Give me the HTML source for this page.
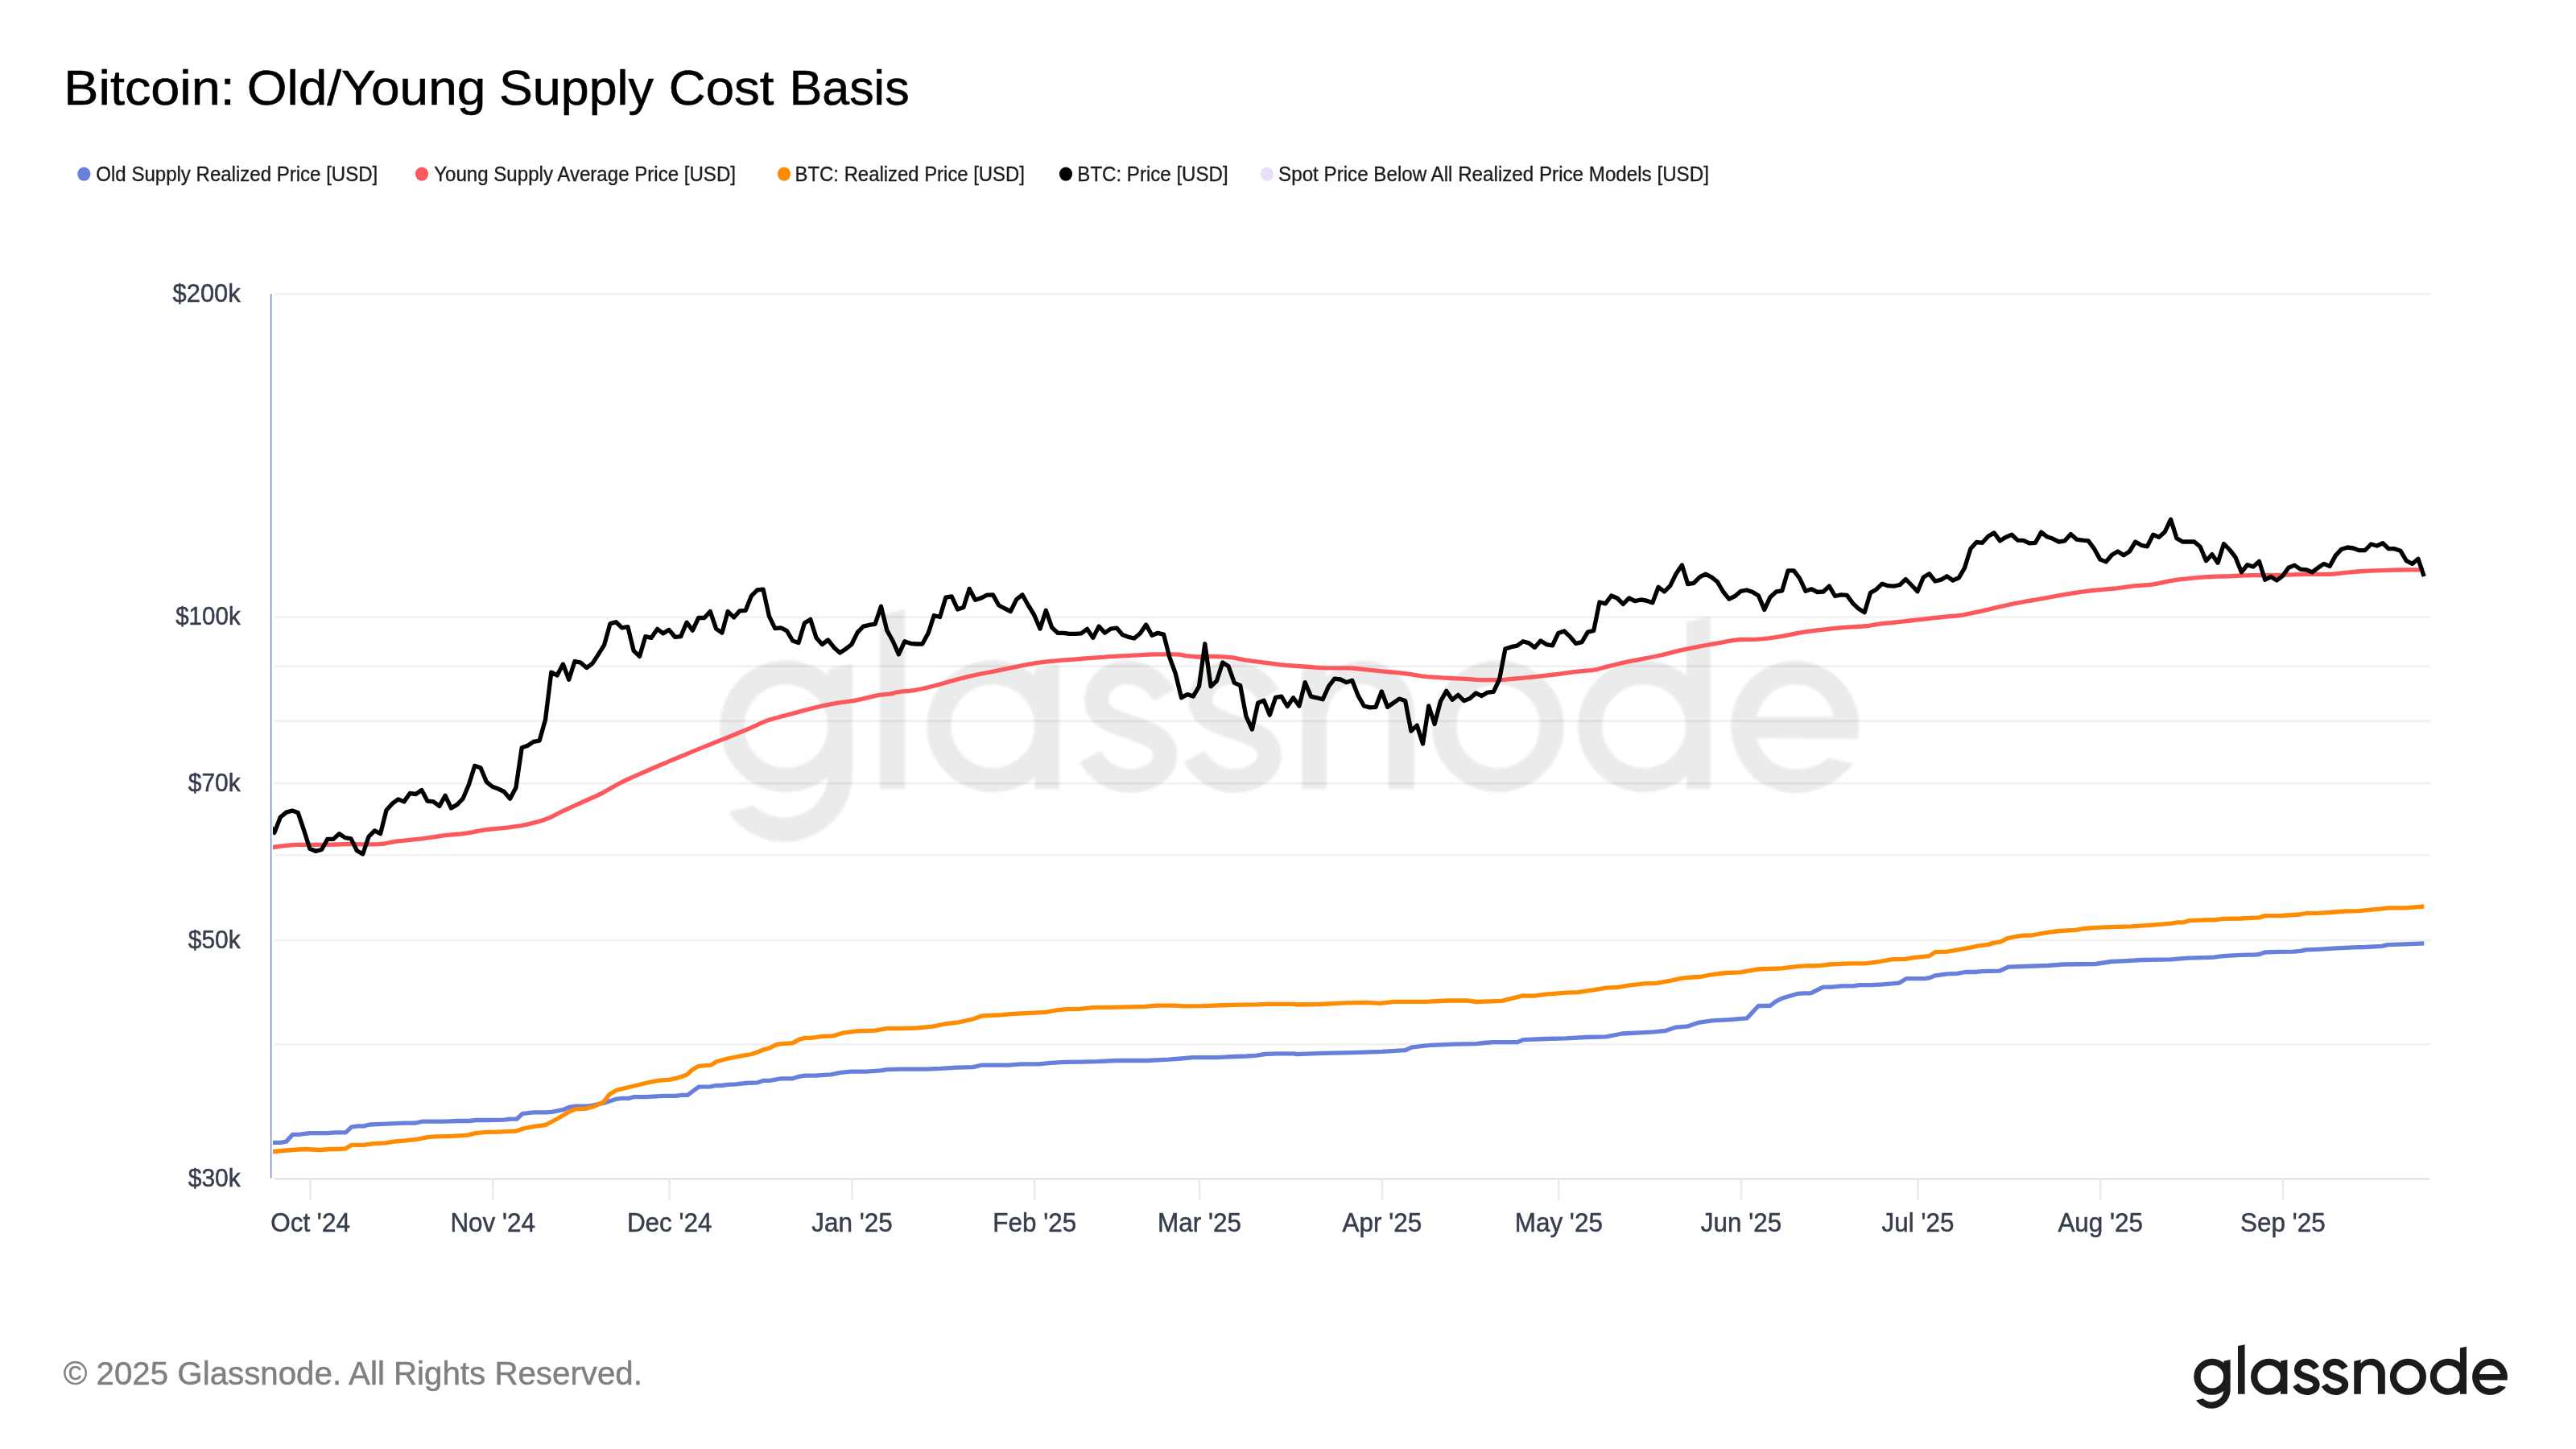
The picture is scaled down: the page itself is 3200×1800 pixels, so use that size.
<!DOCTYPE html>
<html><head><meta charset="utf-8"><title>Bitcoin: Old/Young Supply Cost Basis</title>
<style>
html,body{margin:0;padding:0;background:#fff;}
body{width:3200px;height:1800px;overflow:hidden;font-family:"Liberation Sans",sans-serif;}
svg{position:absolute;left:0;top:0;display:block;will-change:transform}
text{font-family:"Liberation Sans",sans-serif;}
</style></head><body>
<svg width="3200" height="1800" viewBox="0 0 3200 1800">
<defs>
<clipPath id="plot"><rect x="339.0" y="300" width="2684.0" height="1166.4"/></clipPath>
<filter id="soft" x="-5%" y="-5%" width="110%" height="110%"><feGaussianBlur stdDeviation="0.5"/></filter>

</defs>

<rect x="341.3" y="363.75" width="2677.7" height="2.5" fill="#f0f0f0"/>
<rect x="341.3" y="765.29" width="2677.7" height="2.5" fill="#f0f0f0"/>
<rect x="341.3" y="826.33" width="2677.7" height="2.5" fill="#f0f0f0"/>
<rect x="341.3" y="894.56" width="2677.7" height="2.5" fill="#f0f0f0"/>
<rect x="341.3" y="971.91" width="2677.7" height="2.5" fill="#f0f0f0"/>
<rect x="341.3" y="1061.21" width="2677.7" height="2.5" fill="#f0f0f0"/>
<rect x="341.3" y="1166.83" width="2677.7" height="2.5" fill="#f0f0f0"/>
<rect x="341.3" y="1296.10" width="2677.7" height="2.5" fill="#f0f0f0"/>
<g transform="translate(838.8,701.7) scale(3.632)" color="#000" opacity="0.078" filter="url(#soft)"><ellipse cx="37.9" cy="55.2" rx="18.4" ry="18.4" fill="none" stroke="currentColor" stroke-width="8.3"/>
<path d="M60.6 34.0 L60.6 71.5 A23.3 23.3 0 0 1 18.1 84.6 L26.8 82.3 A15.1 15.1 0 0 0 52.3 71.5 L52.3 35.7 Z" fill="currentColor"/>
<path d="M70.0 17.1 L78.6 15.2 L78.6 76.7 L70.0 76.7 Z" fill="currentColor"/>
<ellipse cx="108.6" cy="55.2" rx="18.4" ry="18.4" fill="none" stroke="currentColor" stroke-width="8.3"/>
<path d="M123.0 35.7 L131.4 34.0 L131.4 76.7 L123.0 76.7 Z" fill="currentColor"/>
<path d="M167.30 44.60 C165.30 41.00 160.50 36.80 155.00 36.80 C149.00 36.80 144.10 40.50 144.10 46.50 C144.10 52.00 150.00 53.60 155.50 55.50 C161.50 57.60 167.60 59.50 167.60 65.00 C167.60 70.50 161.50 73.90 155.40 73.90 C149.50 73.90 144.30 70.00 141.90 65.55 " fill="none" stroke="currentColor" stroke-width="8.2" stroke-linecap="butt"/>
<path d="M202.90 44.60 C200.90 41.00 196.10 36.80 190.60 36.80 C184.60 36.80 179.70 40.50 179.70 46.50 C179.70 52.00 185.60 53.60 191.10 55.50 C197.10 57.60 203.20 59.50 203.20 65.00 C203.20 70.50 197.10 73.90 191.00 73.90 C185.10 73.90 179.90 70.00 177.50 65.55 " fill="none" stroke="currentColor" stroke-width="8.2" stroke-linecap="butt"/>
<path fill="currentColor" d="M214.3 36.0 L222.8 33.9 L222.4 38.7 C226 35 230.5 32.8 235.8 32.8 C244.5 32.8 252.8 40.5 252.8 50 L252.8 76.7 L243.9 76.7 L243.9 50.7 C243.9 44.5 240 40.7 233.3 40.7 C227 40.7 222.8 46 222.8 54 L222.8 76.7 L214.3 76.7 Z"/>
<ellipse cx="281.4" cy="55.2" rx="18.4" ry="18.4" fill="none" stroke="currentColor" stroke-width="8.3"/>
<ellipse cx="331.3" cy="55.2" rx="18.4" ry="18.4" fill="none" stroke="currentColor" stroke-width="8.3"/>
<path d="M345.9 19.5 L354.0 17.7 L354.0 76.7 L345.9 76.7 Z" fill="currentColor"/>
<path fill-rule="evenodd" fill="currentColor" d="M403.0 68.05 C398 74 391 78.0 383 78.0 A21.9 22.6 0 0 1 361.1 55.4 A21.9 22.6 0 0 1 383 32.8 A21.9 22.6 0 0 1 404.5 59.6 L369.9 59.2 A13.6 14.5 0 0 0 383.2 69.9 C388 69.9 391.5 68.6 394.3 66.0 Z M369.9 51.9 A13.6 14.5 0 0 1 396.3 51.9 Z"/></g>
<rect x="341.3" y="1463.73" width="2677.7" height="1.6" fill="#d6d6d6"/>
<rect x="384.17" y="1464.4" width="2.67" height="26.2" fill="#ebebeb"/>
<rect x="610.93" y="1464.4" width="2.67" height="26.2" fill="#ebebeb"/>
<rect x="830.38" y="1464.4" width="2.67" height="26.2" fill="#ebebeb"/>
<rect x="1057.14" y="1464.4" width="2.67" height="26.2" fill="#ebebeb"/>
<rect x="1283.90" y="1464.4" width="2.67" height="26.2" fill="#ebebeb"/>
<rect x="1488.72" y="1464.4" width="2.67" height="26.2" fill="#ebebeb"/>
<rect x="1715.48" y="1464.4" width="2.67" height="26.2" fill="#ebebeb"/>
<rect x="1934.93" y="1464.4" width="2.67" height="26.2" fill="#ebebeb"/>
<rect x="2161.69" y="1464.4" width="2.67" height="26.2" fill="#ebebeb"/>
<rect x="2381.14" y="1464.4" width="2.67" height="26.2" fill="#ebebeb"/>
<rect x="2607.90" y="1464.4" width="2.67" height="26.2" fill="#ebebeb"/>
<rect x="2834.66" y="1464.4" width="2.67" height="26.2" fill="#ebebeb"/>
<rect x="335.95" y="365" width="1.4" height="1098.6" fill="#6680DC"/>
<g clip-path="url(#plot)" fill="none" stroke-linejoin="round" stroke-linecap="butt" stroke-width="5.33">
<path d="M330.9 1419.3 L338.9 1419.3 L348.6 1419.3 L355.6 1418.1 L363.5 1409.4 L371.0 1409.4 L384.7 1407.6 L407.0 1407.6 L415.7 1406.9 L429.4 1406.9 L436.8 1399.9 L444.3 1398.9 L451.7 1398.9 L459.2 1397.0 L479.1 1396.2 L501.4 1395.2 L516.3 1395.0 L525.0 1393.2 L553.6 1393.2 L568.5 1392.5 L583.4 1392.5 L590.9 1391.5 L603.3 1391.5 L625.7 1391.2 L634.3 1390.2 L641.8 1390.2 L649.3 1383.3 L662.9 1381.8 L677.8 1381.8 L685.3 1381.3 L700.2 1378.3 L707.6 1375.3 L715.1 1374.1 L730.0 1374.1 L737.5 1372.9 L752.4 1369.6 L764.8 1365.4 L772.2 1364.4 L780.9 1364.4 L787.1 1362.7 L802.0 1362.7 L824.4 1361.4 L839.3 1361.4 L846.8 1360.4 L854.2 1360.4 L867.9 1350.2 L882.8 1349.8 L889.0 1348.5 L896.5 1348.5 L903.9 1347.3 L913.9 1346.8 L926.3 1345.5 L941.2 1344.8 L948.6 1342.3 L956.1 1342.3 L968.5 1340.1 L970.0 1339.8 L984.9 1339.8 L992.4 1337.3 L999.8 1336.1 L1012.2 1336.1 L1032.1 1334.8 L1044.5 1332.4 L1057.0 1331.1 L1076.8 1331.1 L1094.2 1329.9 L1101.7 1328.6 L1119.1 1328.1 L1151.4 1328.1 L1168.8 1327.4 L1188.6 1326.1 L1208.5 1325.7 L1219.7 1323.2 L1253.2 1323.2 L1268.1 1321.9 L1290.5 1321.9 L1305.4 1320.4 L1322.8 1319.4 L1342.7 1319.2 L1362.5 1318.7 L1387.4 1317.5 L1424.7 1317.5 L1452.0 1316.2 L1466.9 1315.0 L1481.8 1313.7 L1511.6 1313.7 L1534.0 1312.5 L1548.9 1312.0 L1561.3 1311.2 L1571.2 1309.5 L1586.1 1308.8 L1608.5 1308.8 L1610.0 1309.6 L1642.3 1308.4 L1679.6 1307.6 L1716.8 1306.4 L1745.4 1304.7 L1754.1 1300.9 L1776.5 1298.4 L1806.3 1297.2 L1833.6 1296.7 L1843.5 1295.5 L1856.0 1294.7 L1884.5 1294.7 L1892.0 1291.7 L1920.6 1290.5 L1945.4 1289.8 L1970.2 1288.5 L1995.1 1287.8 L2015.0 1284.0 L2037.3 1282.8 L2054.7 1281.8 L2069.6 1280.3 L2082.0 1276.1 L2097.0 1274.8 L2109.4 1270.4 L2126.8 1267.9 L2149.1 1266.6 L2170.2 1264.9 L2184.4 1249.5 L2198.8 1249.5 L2206.3 1243.8 L2213.7 1240.1 L2233.6 1234.3 L2241.1 1233.9 L2248.5 1233.9 L2250.0 1233.5 L2264.9 1226.1 L2274.8 1226.1 L2287.3 1224.8 L2302.2 1224.8 L2309.6 1223.6 L2324.5 1223.6 L2339.4 1222.9 L2359.3 1221.1 L2368.0 1215.7 L2391.6 1215.7 L2397.8 1214.4 L2404.0 1211.9 L2418.9 1209.9 L2431.4 1209.4 L2441.3 1207.5 L2453.7 1207.5 L2461.2 1206.7 L2483.5 1206.2 L2494.7 1201.2 L2513.4 1200.5 L2543.2 1199.5 L2563.0 1198.0 L2602.8 1197.5 L2622.7 1194.5 L2637.6 1193.8 L2659.9 1192.5 L2697.2 1191.8 L2717.1 1190.1 L2746.9 1189.3 L2750.0 1189.2 L2761.8 1187.6 L2783.5 1186.3 L2799.7 1186.1 L2806.5 1185.5 L2813.4 1183.0 L2829.5 1182.4 L2849.4 1182.1 L2858.1 1181.4 L2864.9 1179.9 L2879.2 1179.3 L2902.8 1177.8 L2923.9 1176.8 L2938.8 1176.5 L2958.7 1175.3 L2966.1 1173.7 L2988.5 1172.8 L3011.2 1171.8" stroke="#6680DC"/>
<path d="M330.9 1053.6 L338.9 1052.5 L346.3 1051.5 L353.6 1050.7 L360.9 1049.9 L368.2 1049.3 L375.5 1049.3 L382.8 1049.3 L390.2 1049.3 L397.5 1049.3 L404.8 1049.3 L412.1 1049.2 L419.4 1049.0 L426.7 1048.7 L434.0 1048.6 L441.4 1048.6 L448.7 1048.8 L456.0 1048.8 L463.3 1048.8 L470.6 1048.6 L477.9 1048.0 L485.3 1046.3 L492.6 1045.1 L499.9 1044.3 L507.2 1043.6 L514.5 1042.9 L521.8 1042.1 L529.2 1041.2 L536.5 1040.1 L543.8 1039.0 L551.1 1037.9 L558.4 1037.1 L565.7 1036.5 L573.0 1035.8 L580.4 1034.9 L587.7 1033.6 L595.0 1032.1 L602.3 1030.8 L609.6 1030.0 L616.9 1029.3 L624.3 1028.6 L631.6 1027.9 L638.9 1026.9 L646.2 1025.8 L653.5 1024.4 L660.8 1022.7 L668.2 1020.8 L675.5 1018.6 L682.8 1015.8 L690.1 1012.2 L697.4 1008.4 L704.7 1005.0 L712.1 1001.6 L719.4 998.3 L726.7 995.0 L734.0 991.8 L741.3 988.5 L748.6 985.0 L755.9 980.8 L763.3 976.5 L770.6 972.6 L777.9 969.0 L785.2 965.6 L792.5 962.4 L799.8 959.2 L807.2 956.0 L814.5 952.8 L821.8 949.7 L829.1 946.6 L836.4 943.5 L843.7 940.5 L851.1 937.5 L858.4 934.4 L865.7 931.4 L873.0 928.4 L880.3 925.5 L887.6 922.5 L894.9 919.6 L902.3 916.7 L909.6 913.7 L916.9 910.8 L924.2 907.8 L931.5 904.7 L938.8 901.3 L946.2 897.9 L953.5 894.9 L960.8 892.7 L968.1 890.7 L975.4 888.9 L982.7 886.9 L990.1 884.9 L997.4 882.9 L1004.7 881.0 L1012.0 879.2 L1019.3 877.4 L1026.6 875.8 L1033.9 874.4 L1041.3 873.2 L1048.6 872.2 L1055.9 871.2 L1063.2 870.0 L1070.5 868.4 L1077.8 866.6 L1085.2 864.8 L1092.5 863.4 L1099.8 862.6 L1107.1 861.9 L1114.4 859.8 L1121.7 858.8 L1129.1 858.3 L1136.4 857.4 L1143.7 856.0 L1151.0 854.3 L1158.3 852.5 L1165.6 850.6 L1172.9 848.5 L1180.3 846.4 L1187.6 844.4 L1194.9 842.5 L1202.2 840.7 L1209.5 839.0 L1216.8 837.4 L1224.2 836.0 L1231.5 834.6 L1238.8 833.1 L1246.1 831.7 L1253.4 830.2 L1260.7 828.7 L1268.1 827.2 L1275.4 825.6 L1282.7 824.3 L1290.0 823.2 L1297.3 822.3 L1304.6 821.5 L1311.9 820.8 L1319.3 820.2 L1326.6 819.7 L1333.9 819.1 L1341.2 818.5 L1348.5 817.9 L1355.8 817.3 L1363.2 816.8 L1370.5 816.3 L1377.8 815.7 L1385.1 815.3 L1392.4 814.9 L1399.7 814.6 L1407.1 814.2 L1414.4 813.8 L1421.7 813.3 L1429.0 813.0 L1436.3 812.9 L1443.6 812.9 L1450.9 812.9 L1458.3 812.9 L1465.6 813.1 L1472.9 814.6 L1480.2 815.4 L1487.5 816.0 L1494.8 816.0 L1502.2 815.4 L1509.5 815.5 L1516.8 815.8 L1524.1 816.1 L1531.4 816.9 L1538.7 818.3 L1546.1 819.8 L1553.4 820.9 L1560.7 821.9 L1568.0 822.8 L1575.3 823.7 L1582.6 824.6 L1589.9 825.6 L1597.3 826.4 L1604.6 827.0 L1611.9 827.5 L1619.2 828.0 L1626.5 828.5 L1633.8 829.1 L1641.2 829.6 L1648.5 829.8 L1655.8 829.8 L1663.1 829.8 L1670.4 829.8 L1677.7 829.9 L1685.1 830.5 L1692.4 831.3 L1699.7 832.1 L1707.0 832.9 L1714.3 833.6 L1721.6 834.3 L1728.9 835.0 L1736.3 835.7 L1743.6 836.5 L1750.9 837.4 L1758.2 838.7 L1765.5 839.9 L1772.8 840.7 L1780.2 841.2 L1787.5 841.7 L1794.8 842.1 L1802.1 842.5 L1809.4 842.8 L1816.7 843.2 L1824.1 843.6 L1831.4 844.2 L1838.7 844.6 L1846.0 844.7 L1853.3 844.7 L1860.6 844.7 L1867.9 844.4 L1875.3 843.7 L1882.6 843.0 L1889.9 842.4 L1897.2 841.7 L1904.5 841.0 L1911.8 840.2 L1919.2 839.4 L1926.5 838.5 L1933.8 837.6 L1941.1 836.7 L1948.4 835.7 L1955.7 834.7 L1963.1 833.8 L1970.4 833.2 L1977.7 832.6 L1985.0 831.3 L1992.3 829.2 L1999.6 827.3 L2006.9 825.5 L2014.3 823.7 L2021.6 822.2 L2028.9 820.7 L2036.2 819.3 L2043.5 817.9 L2050.8 816.5 L2058.2 815.0 L2065.5 813.4 L2072.8 811.6 L2080.1 809.7 L2087.4 807.9 L2094.7 806.3 L2102.1 804.8 L2109.4 803.4 L2116.7 802.0 L2124.0 800.7 L2131.3 799.3 L2138.6 798.1 L2145.9 796.7 L2153.3 795.4 L2160.6 794.5 L2167.9 794.4 L2175.2 794.3 L2182.5 794.2 L2189.8 793.7 L2197.2 792.9 L2204.5 791.8 L2211.8 790.7 L2219.1 789.4 L2226.4 787.8 L2233.7 786.3 L2241.1 785.1 L2248.4 784.1 L2255.7 783.1 L2263.0 782.3 L2270.3 781.5 L2277.6 780.7 L2284.9 780.0 L2292.3 779.3 L2299.6 778.9 L2306.9 778.5 L2314.2 778.0 L2321.5 777.3 L2328.8 776.0 L2336.2 774.9 L2343.5 774.1 L2350.8 773.5 L2358.1 772.7 L2365.4 771.9 L2372.7 771.0 L2380.1 770.2 L2387.4 769.3 L2394.7 768.5 L2402.0 767.7 L2409.3 767.0 L2416.6 766.2 L2423.9 765.5 L2431.3 764.8 L2438.6 763.8 L2445.9 762.4 L2453.2 760.9 L2460.5 759.3 L2467.8 757.6 L2475.2 755.9 L2482.5 754.2 L2489.8 752.5 L2497.1 750.9 L2504.4 749.4 L2511.7 748.0 L2519.1 746.7 L2526.4 745.5 L2533.7 744.1 L2541.0 742.8 L2548.3 741.5 L2555.6 740.2 L2562.9 738.9 L2570.3 737.6 L2577.6 736.5 L2584.9 735.4 L2592.2 734.4 L2599.5 733.5 L2606.8 732.8 L2614.2 732.2 L2621.5 731.5 L2628.8 730.8 L2636.1 729.9 L2643.4 728.8 L2650.7 727.9 L2658.1 727.3 L2665.4 726.8 L2672.7 726.2 L2680.0 725.0 L2687.3 723.3 L2694.6 721.8 L2702.0 720.7 L2709.3 719.7 L2716.6 718.8 L2723.9 718.1 L2731.2 717.4 L2738.5 716.9 L2745.8 716.5 L2753.2 716.2 L2760.5 716.0 L2767.8 715.8 L2775.1 715.5 L2782.4 715.2 L2789.7 714.9 L2797.1 714.7 L2804.4 714.7 L2811.7 714.6 L2819.0 714.5 L2826.3 714.4 L2833.6 714.3 L2841.0 714.1 L2848.3 713.9 L2855.6 713.6 L2862.9 713.4 L2870.2 713.3 L2877.5 713.3 L2884.8 713.3 L2892.2 713.3 L2899.5 713.0 L2906.8 712.2 L2914.1 711.3 L2921.4 710.6 L2928.7 710.0 L2936.1 709.5 L2943.4 709.1 L2950.7 708.8 L2958.0 708.6 L2965.3 708.4 L2972.6 708.2 L2980.0 708.0 L2987.3 707.9 L2994.6 707.8 L3001.9 707.8 L3009.2 707.8 L3011.1 707.8" stroke="#FD585E"/>
<path d="M330.9 1431.2 L338.9 1430.5 L362.3 1428.5 L379.7 1427.5 L397.1 1428.5 L409.5 1427.5 L421.9 1427.5 L429.4 1426.8 L436.8 1422.3 L451.7 1422.3 L464.2 1420.6 L479.1 1419.8 L489.0 1418.1 L503.9 1416.8 L518.8 1415.1 L531.2 1412.6 L541.2 1411.9 L561.1 1411.4 L580.9 1410.1 L590.9 1407.6 L603.3 1406.4 L618.2 1406.1 L640.6 1405.2 L650.5 1401.9 L662.9 1399.4 L677.8 1397.5 L692.7 1389.5 L707.6 1380.8 L715.1 1377.8 L727.5 1377.1 L737.5 1374.6 L749.9 1368.9 L757.3 1359.2 L766.0 1354.2 L777.2 1351.5 L789.6 1348.5 L802.0 1345.5 L817.0 1342.3 L831.9 1341.1 L841.8 1339.1 L853.0 1335.3 L860.4 1328.6 L867.9 1324.4 L882.8 1323.2 L890.2 1318.7 L903.9 1315.0 L921.3 1311.7 L933.7 1309.5 L941.2 1307.0 L948.6 1303.8 L956.1 1301.8 L963.5 1298.1 L968.5 1296.8 L970.0 1296.8 L984.9 1295.6 L992.4 1291.4 L999.8 1289.4 L1007.3 1289.4 L1019.7 1287.6 L1034.6 1286.9 L1047.0 1283.2 L1064.4 1280.9 L1086.8 1280.2 L1101.7 1277.7 L1119.1 1277.7 L1138.9 1277.0 L1158.8 1275.2 L1173.7 1272.0 L1191.1 1269.8 L1208.5 1266.0 L1219.7 1262.0 L1243.3 1260.8 L1255.7 1259.6 L1280.6 1258.3 L1299.2 1257.3 L1312.9 1254.8 L1325.3 1253.6 L1340.2 1253.4 L1357.6 1251.6 L1379.9 1251.4 L1402.3 1250.9 L1422.2 1250.4 L1437.1 1249.1 L1459.4 1249.1 L1469.4 1249.9 L1494.2 1249.6 L1529.0 1248.4 L1561.3 1247.9 L1573.7 1247.4 L1608.5 1247.4 L1610.0 1248.0 L1639.8 1247.5 L1672.1 1245.8 L1697.0 1245.3 L1714.3 1246.3 L1731.7 1244.3 L1771.5 1244.3 L1798.8 1243.0 L1823.7 1243.0 L1833.6 1244.5 L1865.9 1243.3 L1878.3 1240.1 L1892.0 1236.8 L1905.7 1237.1 L1920.6 1235.1 L1945.4 1233.1 L1960.3 1232.6 L1980.2 1229.6 L1995.1 1227.1 L2010.0 1226.4 L2024.9 1223.9 L2042.3 1221.9 L2057.2 1221.4 L2074.6 1218.4 L2089.5 1215.2 L2101.9 1214.0 L2111.9 1213.5 L2126.8 1210.7 L2144.2 1208.5 L2161.6 1207.8 L2183.9 1204.0 L2213.7 1202.8 L2233.6 1200.3 L2248.5 1199.6 L2250.0 1200.0 L2262.4 1199.3 L2272.4 1198.0 L2299.7 1196.8 L2317.1 1196.8 L2332.0 1195.0 L2349.4 1191.8 L2366.8 1191.3 L2376.7 1189.6 L2396.6 1187.6 L2404.0 1182.6 L2418.9 1182.1 L2433.9 1179.6 L2448.8 1176.9 L2456.2 1175.2 L2469.9 1173.4 L2476.1 1171.4 L2484.8 1170.2 L2493.5 1165.7 L2503.4 1163.5 L2513.4 1162.2 L2523.3 1162.0 L2543.2 1158.3 L2558.1 1156.5 L2578.0 1155.3 L2587.9 1153.5 L2602.8 1152.3 L2622.7 1151.6 L2647.5 1150.8 L2672.4 1149.1 L2697.2 1147.1 L2704.7 1145.8 L2712.1 1145.8 L2719.6 1143.6 L2737.0 1142.9 L2746.9 1142.6 L2750.0 1142.9 L2761.8 1141.4 L2783.5 1141.0 L2806.5 1139.9 L2813.4 1137.6 L2834.5 1137.5 L2856.8 1136.0 L2864.9 1134.5 L2879.2 1134.3 L2894.1 1133.5 L2912.7 1132.0 L2930.1 1131.7 L2958.7 1128.9 L2966.1 1127.8 L2988.5 1127.8 L3011.2 1126.0" stroke="#FF8B00"/>
<path d="M333.6 1022.0 L340.9 1034.4 L348.2 1015.3 L355.6 1009.1 L362.9 1007.1 L370.2 1009.6 L377.5 1031.2 L384.8 1054.3 L392.1 1057.3 L399.5 1055.5 L406.8 1042.4 L414.1 1042.4 L421.4 1035.7 L428.7 1040.6 L436.0 1041.9 L443.4 1056.8 L450.7 1061.0 L458.0 1039.4 L465.3 1031.9 L472.6 1035.7 L479.9 1006.6 L487.2 998.4 L494.6 992.9 L501.9 995.9 L509.2 985.5 L516.5 986.5 L523.8 981.5 L531.1 995.2 L538.5 995.9 L545.8 1001.4 L553.1 988.4 L560.4 1003.9 L567.7 999.6 L575.0 992.2 L582.4 974.8 L589.7 951.2 L597.0 953.7 L604.3 971.1 L611.6 977.3 L618.9 979.8 L626.2 983.5 L633.6 992.2 L640.9 978.5 L648.2 928.8 L655.5 926.3 L662.8 921.4 L670.1 920.1 L677.5 894.0 L684.8 835.2 L692.1 838.9 L699.4 825.0 L706.7 844.3 L714.0 821.5 L721.4 823.2 L728.7 829.6 L736.0 824.1 L743.3 812.9 L750.6 801.2 L757.9 774.9 L765.2 772.7 L772.6 779.9 L779.9 778.6 L787.2 808.4 L794.5 815.4 L801.8 790.6 L809.1 792.3 L816.5 781.4 L823.8 786.8 L831.1 782.4 L838.4 791.3 L845.7 790.6 L853.0 773.2 L860.4 783.1 L867.7 767.5 L875.0 767.5 L882.3 759.5 L889.6 781.1 L896.9 786.1 L904.2 759.5 L911.6 767.0 L918.9 758.8 L926.2 758.3 L933.5 740.1 L940.8 732.9 L948.1 732.2 L955.5 765.7 L962.8 780.6 L970.1 779.9 L977.4 783.6 L984.7 796.0 L992.0 798.5 L999.4 773.9 L1006.7 769.4 L1014.0 792.3 L1021.3 800.5 L1028.6 795.0 L1035.9 804.2 L1043.2 810.9 L1050.6 806.2 L1057.9 800.5 L1065.2 785.6 L1072.5 778.1 L1079.8 776.4 L1087.1 775.2 L1094.5 753.3 L1101.8 783.1 L1109.1 796.3 L1116.4 812.9 L1123.7 796.8 L1131.0 799.3 L1138.4 800.0 L1145.7 800.0 L1153.0 786.8 L1160.3 764.5 L1167.6 766.5 L1174.9 742.1 L1182.2 740.9 L1189.6 757.0 L1196.9 754.5 L1204.2 731.4 L1211.5 745.3 L1218.8 742.9 L1226.1 739.1 L1233.5 738.9 L1240.8 752.0 L1248.1 755.8 L1255.4 759.5 L1262.7 744.6 L1270.0 738.9 L1277.4 752.0 L1284.7 764.0 L1292.0 781.1 L1299.3 758.3 L1306.6 779.4 L1313.9 786.3 L1321.2 786.3 L1328.6 787.3 L1335.9 787.3 L1343.2 786.8 L1350.5 781.4 L1357.8 792.3 L1365.1 778.1 L1372.5 786.1 L1379.8 781.1 L1387.1 780.1 L1394.4 788.6 L1401.7 791.3 L1409.0 793.0 L1416.4 786.8 L1423.7 776.1 L1431.0 789.3 L1438.3 786.3 L1445.6 788.1 L1452.9 816.6 L1460.2 836.5 L1467.6 866.8 L1474.9 862.6 L1482.2 865.1 L1489.5 852.7 L1496.8 799.8 L1504.1 852.7 L1511.5 845.7 L1518.8 822.9 L1526.1 827.8 L1533.4 848.4 L1540.7 851.4 L1548.0 889.9 L1555.4 906.1 L1562.7 873.3 L1570.0 870.1 L1577.3 888.2 L1584.6 866.3 L1591.9 865.1 L1599.2 877.5 L1606.6 866.8 L1613.9 877.0 L1621.2 847.7 L1628.5 865.1 L1635.8 866.8 L1643.1 868.8 L1650.5 852.7 L1657.8 843.2 L1665.1 844.0 L1672.4 847.7 L1679.7 845.2 L1687.0 863.9 L1694.4 877.0 L1701.7 878.8 L1709.0 878.3 L1716.3 858.9 L1723.6 878.3 L1730.9 873.3 L1738.2 868.1 L1745.6 870.6 L1752.9 908.1 L1760.2 901.1 L1767.5 924.0 L1774.8 877.0 L1782.1 899.4 L1789.5 871.3 L1796.8 858.4 L1804.1 869.3 L1811.4 863.4 L1818.7 870.6 L1826.0 867.6 L1833.4 860.9 L1840.7 864.6 L1848.0 860.1 L1855.3 859.4 L1862.6 844.0 L1869.9 806.0 L1877.2 803.7 L1884.6 802.2 L1891.9 796.8 L1899.2 798.9 L1906.5 804.3 L1913.8 795.9 L1921.1 800.6 L1928.5 801.9 L1935.8 786.5 L1943.1 784.0 L1950.4 790.9 L1957.7 799.4 L1965.0 797.6 L1972.4 785.2 L1979.7 783.5 L1987.0 748.0 L1994.3 749.9 L2001.6 740.0 L2008.9 743.0 L2016.3 750.4 L2023.6 743.0 L2030.9 746.7 L2038.2 745.0 L2045.5 746.2 L2052.8 748.7 L2060.1 729.3 L2067.5 735.0 L2074.8 727.6 L2082.1 712.7 L2089.4 702.0 L2096.7 725.6 L2104.0 724.3 L2111.4 716.9 L2118.7 713.2 L2126.0 716.9 L2133.3 722.6 L2140.6 735.0 L2147.9 744.2 L2155.3 740.5 L2162.6 734.3 L2169.9 733.0 L2177.2 735.5 L2184.5 740.0 L2191.8 757.4 L2199.1 741.7 L2206.5 735.0 L2213.8 733.8 L2221.1 708.9 L2228.4 708.9 L2235.7 718.6 L2243.0 734.3 L2250.4 731.8 L2257.7 735.5 L2265.0 735.0 L2272.3 728.1 L2279.6 740.5 L2286.9 738.8 L2294.3 739.4 L2301.6 749.3 L2308.9 756.3 L2316.2 760.7 L2323.5 736.4 L2330.8 732.2 L2338.1 725.2 L2345.5 727.7 L2352.8 728.2 L2360.1 726.5 L2367.4 719.5 L2374.7 727.0 L2382.0 734.7 L2389.4 717.0 L2396.7 712.8 L2404.0 722.0 L2411.3 720.2 L2418.6 715.8 L2425.9 721.0 L2433.3 717.8 L2440.6 705.3 L2447.9 681.7 L2455.2 673.5 L2462.5 674.3 L2469.8 666.3 L2477.1 661.9 L2484.5 671.8 L2491.8 667.3 L2499.1 664.3 L2506.4 671.1 L2513.7 671.3 L2521.0 674.8 L2528.4 674.3 L2535.7 661.1 L2543.0 666.8 L2550.3 669.3 L2557.6 673.0 L2564.9 671.8 L2572.3 663.6 L2579.6 670.1 L2586.9 671.1 L2594.2 671.8 L2601.5 681.7 L2608.8 694.9 L2616.1 697.9 L2623.5 689.2 L2630.8 685.0 L2638.1 689.7 L2645.4 685.0 L2652.7 673.0 L2660.0 677.3 L2667.4 678.8 L2674.7 664.3 L2682.0 667.3 L2689.3 660.6 L2696.6 645.2 L2703.9 668.6 L2711.3 673.0 L2718.6 673.0 L2725.9 673.0 L2733.2 679.3 L2740.5 696.6 L2747.8 688.7 L2755.1 699.1 L2762.5 675.5 L2769.8 683.0 L2777.1 692.4 L2784.4 710.8 L2791.7 701.6 L2799.0 704.1 L2806.4 697.4 L2813.7 720.2 L2821.0 716.5 L2828.3 721.0 L2835.6 715.3 L2842.9 705.3 L2850.3 702.1 L2857.6 707.1 L2864.9 707.8 L2872.2 710.8 L2879.5 705.3 L2886.8 700.4 L2894.1 703.4 L2901.5 689.9 L2908.8 682.2 L2916.1 680.0 L2923.4 681.0 L2930.7 683.7 L2938.0 683.5 L2945.4 676.0 L2952.7 678.0 L2960.0 674.8 L2967.3 681.7 L2974.6 681.7 L2981.9 684.2 L2989.3 696.6 L2996.6 700.4 L3003.9 694.2 L3011.2 716.0" stroke="#000000"/>
</g>
<text class="yl" x="214.63" y="374.8" font-size="30.6" fill="#363D4C" stroke="#363D4C" stroke-width="0.5" textLength="83.99" lengthAdjust="spacingAndGlyphs">$200k</text>
<text class="yl" x="218.19" y="776.3" font-size="30.6" fill="#363D4C" stroke="#363D4C" stroke-width="0.5" textLength="80.46" lengthAdjust="spacingAndGlyphs">$100k</text>
<text class="yl" x="233.74" y="983.0" font-size="30.6" fill="#363D4C" stroke="#363D4C" stroke-width="0.5" textLength="64.95" lengthAdjust="spacingAndGlyphs">$70k</text>
<text class="yl" x="233.74" y="1177.9" font-size="30.6" fill="#363D4C" stroke="#363D4C" stroke-width="0.5" textLength="64.95" lengthAdjust="spacingAndGlyphs">$50k</text>
<text class="yl" x="233.74" y="1474.0" font-size="30.6" fill="#363D4C" stroke="#363D4C" stroke-width="0.5" textLength="64.95" lengthAdjust="spacingAndGlyphs">$30k</text>
<text class="xl" x="336.2" y="1530.2" font-size="32.6" fill="#363D4C" stroke="#363D4C" stroke-width="0.5" textLength="98.7" lengthAdjust="spacingAndGlyphs">Oct '24</text>
<text class="xl" x="559.4" y="1530.2" font-size="32.6" fill="#363D4C" stroke="#363D4C" stroke-width="0.5" textLength="105.7" lengthAdjust="spacingAndGlyphs">Nov '24</text>
<text class="xl" x="778.9" y="1530.2" font-size="32.6" fill="#363D4C" stroke="#363D4C" stroke-width="0.5" textLength="105.7" lengthAdjust="spacingAndGlyphs">Dec '24</text>
<text class="xl" x="1008.2" y="1530.2" font-size="32.6" fill="#363D4C" stroke="#363D4C" stroke-width="0.5" textLength="100.5" lengthAdjust="spacingAndGlyphs">Jan '25</text>
<text class="xl" x="1233.3" y="1530.2" font-size="32.6" fill="#363D4C" stroke="#363D4C" stroke-width="0.5" textLength="103.9" lengthAdjust="spacingAndGlyphs">Feb '25</text>
<text class="xl" x="1438.1" y="1530.2" font-size="32.6" fill="#363D4C" stroke="#363D4C" stroke-width="0.5" textLength="103.9" lengthAdjust="spacingAndGlyphs">Mar '25</text>
<text class="xl" x="1667.5" y="1530.2" font-size="32.6" fill="#363D4C" stroke="#363D4C" stroke-width="0.5" textLength="98.7" lengthAdjust="spacingAndGlyphs">Apr '25</text>
<text class="xl" x="1881.7" y="1530.2" font-size="32.6" fill="#363D4C" stroke="#363D4C" stroke-width="0.5" textLength="109.2" lengthAdjust="spacingAndGlyphs">May '25</text>
<text class="xl" x="2112.8" y="1530.2" font-size="32.6" fill="#363D4C" stroke="#363D4C" stroke-width="0.5" textLength="100.5" lengthAdjust="spacingAndGlyphs">Jun '25</text>
<text class="xl" x="2337.5" y="1530.2" font-size="32.6" fill="#363D4C" stroke="#363D4C" stroke-width="0.5" textLength="89.9" lengthAdjust="spacingAndGlyphs">Jul '25</text>
<text class="xl" x="2556.4" y="1530.2" font-size="32.6" fill="#363D4C" stroke="#363D4C" stroke-width="0.5" textLength="105.7" lengthAdjust="spacingAndGlyphs">Aug '25</text>
<text class="xl" x="2783.1" y="1530.2" font-size="32.6" fill="#363D4C" stroke="#363D4C" stroke-width="0.5" textLength="105.7" lengthAdjust="spacingAndGlyphs">Sep '25</text>
<text x="79.33" y="130.2" font-size="61" fill="#000" stroke="#000" stroke-width="0.6" textLength="212.41" lengthAdjust="spacingAndGlyphs">Bitcoin:</text>
<text x="306.70" y="130.2" font-size="61" fill="#000" stroke="#000" stroke-width="0.6" textLength="296.68" lengthAdjust="spacingAndGlyphs">Old/Young</text>
<text x="619.94" y="130.2" font-size="61" fill="#000" stroke="#000" stroke-width="0.6" textLength="192.02" lengthAdjust="spacingAndGlyphs">Supply</text>
<text x="830.89" y="130.2" font-size="61" fill="#000" stroke="#000" stroke-width="0.6" textLength="130.56" lengthAdjust="spacingAndGlyphs">Cost</text>
<text x="980.71" y="130.2" font-size="61" fill="#000" stroke="#000" stroke-width="0.6" textLength="148.88" lengthAdjust="spacingAndGlyphs">Basis</text>
<ellipse cx="104.3" cy="216.1" rx="8.1" ry="8.7" fill="#6680DC"/>
<text class="lg" x="119.34" y="224.5" font-size="25.6" fill="#1c1c1c" stroke="#1c1c1c" stroke-width="0.35" textLength="349.90" lengthAdjust="spacingAndGlyphs">Old Supply Realized Price [USD]</text>
<ellipse cx="524.0" cy="216.1" rx="8.1" ry="8.7" fill="#FD585E"/>
<text class="lg" x="539.21" y="224.5" font-size="25.6" fill="#1c1c1c" stroke="#1c1c1c" stroke-width="0.35" textLength="374.77" lengthAdjust="spacingAndGlyphs">Young Supply Average Price [USD]</text>
<ellipse cx="974.0" cy="216.1" rx="8.1" ry="8.7" fill="#FF8B00"/>
<text class="lg" x="987.60" y="224.5" font-size="25.6" fill="#1c1c1c" stroke="#1c1c1c" stroke-width="0.35" textLength="285.34" lengthAdjust="spacingAndGlyphs">BTC: Realized Price [USD]</text>
<ellipse cx="1324.0" cy="216.1" rx="8.1" ry="8.7" fill="#000000"/>
<text class="lg" x="1338.33" y="224.5" font-size="25.6" fill="#1c1c1c" stroke="#1c1c1c" stroke-width="0.35" textLength="187.29" lengthAdjust="spacingAndGlyphs">BTC: Price [USD]</text>
<ellipse cx="1574.0" cy="216.1" rx="8.1" ry="8.7" fill="#EADCFB"/>
<text class="lg" x="1588.08" y="224.5" font-size="25.6" fill="#1c1c1c" stroke="#1c1c1c" stroke-width="0.35" textLength="534.82" lengthAdjust="spacingAndGlyphs">Spot Price Below All Realized Price Models [USD]</text>
<text x="78.70" y="1720.2" font-size="40" fill="#808080" stroke="#808080" stroke-width="0.5" textLength="719.27" lengthAdjust="spacingAndGlyphs">© 2025 Glassnode. All Rights Reserved.</text>
<g transform="translate(2710,1655)" color="#1b1b1b"><ellipse cx="37.9" cy="55.2" rx="18.4" ry="18.4" fill="none" stroke="currentColor" stroke-width="8.3"/>
<path d="M60.6 34.0 L60.6 71.5 A23.3 23.3 0 0 1 18.1 84.6 L26.8 82.3 A15.1 15.1 0 0 0 52.3 71.5 L52.3 35.7 Z" fill="currentColor"/>
<path d="M70.0 17.1 L78.6 15.2 L78.6 76.7 L70.0 76.7 Z" fill="currentColor"/>
<ellipse cx="108.6" cy="55.2" rx="18.4" ry="18.4" fill="none" stroke="currentColor" stroke-width="8.3"/>
<path d="M123.0 35.7 L131.4 34.0 L131.4 76.7 L123.0 76.7 Z" fill="currentColor"/>
<path d="M167.30 44.60 C165.30 41.00 160.50 36.80 155.00 36.80 C149.00 36.80 144.10 40.50 144.10 46.50 C144.10 52.00 150.00 53.60 155.50 55.50 C161.50 57.60 167.60 59.50 167.60 65.00 C167.60 70.50 161.50 73.90 155.40 73.90 C149.50 73.90 144.30 70.00 141.90 65.55 " fill="none" stroke="currentColor" stroke-width="8.2" stroke-linecap="butt"/>
<path d="M202.90 44.60 C200.90 41.00 196.10 36.80 190.60 36.80 C184.60 36.80 179.70 40.50 179.70 46.50 C179.70 52.00 185.60 53.60 191.10 55.50 C197.10 57.60 203.20 59.50 203.20 65.00 C203.20 70.50 197.10 73.90 191.00 73.90 C185.10 73.90 179.90 70.00 177.50 65.55 " fill="none" stroke="currentColor" stroke-width="8.2" stroke-linecap="butt"/>
<path fill="currentColor" d="M214.3 36.0 L222.8 33.9 L222.4 38.7 C226 35 230.5 32.8 235.8 32.8 C244.5 32.8 252.8 40.5 252.8 50 L252.8 76.7 L243.9 76.7 L243.9 50.7 C243.9 44.5 240 40.7 233.3 40.7 C227 40.7 222.8 46 222.8 54 L222.8 76.7 L214.3 76.7 Z"/>
<ellipse cx="281.4" cy="55.2" rx="18.4" ry="18.4" fill="none" stroke="currentColor" stroke-width="8.3"/>
<ellipse cx="331.3" cy="55.2" rx="18.4" ry="18.4" fill="none" stroke="currentColor" stroke-width="8.3"/>
<path d="M345.9 19.5 L354.0 17.7 L354.0 76.7 L345.9 76.7 Z" fill="currentColor"/>
<path fill-rule="evenodd" fill="currentColor" d="M403.0 68.05 C398 74 391 78.0 383 78.0 A21.9 22.6 0 0 1 361.1 55.4 A21.9 22.6 0 0 1 383 32.8 A21.9 22.6 0 0 1 404.5 59.6 L369.9 59.2 A13.6 14.5 0 0 0 383.2 69.9 C388 69.9 391.5 68.6 394.3 66.0 Z M369.9 51.9 A13.6 14.5 0 0 1 396.3 51.9 Z"/></g>
</svg>
</body></html>
